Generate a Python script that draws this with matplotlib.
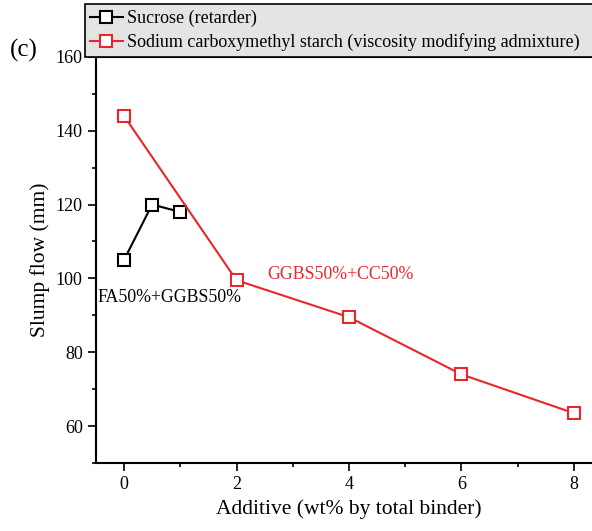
import numpy as np
import matplotlib.pyplot as plt
from matplotlib.ticker import MultipleLocator

# Datos de fluidez (mm) frente al aditivo (% en peso del aglutinante)
sacarosa_x = [0, 0.5, 1]
sacarosa_y = [105, 120, 118]
almidon_x = [0, 2, 4, 6, 8]
almidon_y = [144, 99.5, 89.5, 74, 63.5]

rojo = '#e8262b'
plt.rcParams['font.family'] = ['Liberation Serif', 'DejaVu Serif']

fig = plt.figure(figsize=(5.92, 5.31), dpi=100)
ax = fig.add_axes([0.162, 0.128, 0.855, 0.765])

ax.plot(sacarosa_x, sacarosa_y, color='black', lw=1.5, marker='s', ms=8,
        mfc='white', mec='black', mew=1.5, label='Sucrose (retarder)')
ax.plot(almidon_x, almidon_y, color=rojo, lw=1.5, marker='s', ms=8,
        mfc='white', mec=rojo, mew=1.5,
        label='Sodium carboxymethyl starch (viscosity modifying admixture)')

ax.set_xlim(-0.5, 8.5)
ax.set_ylim(50, 160)
ax.xaxis.set_major_locator(MultipleLocator(2))
ax.xaxis.set_minor_locator(MultipleLocator(1))
ax.yaxis.set_major_locator(MultipleLocator(20))
ax.yaxis.set_minor_locator(MultipleLocator(10))
ax.tick_params(which='both', direction='out', labelsize=13, width=1.2)
ax.tick_params(which='major', length=6)
ax.tick_params(which='minor', length=3)
for lado in ax.spines.values():
    lado.set_linewidth(1.5)

ax.set_xlabel('Additive (wt% by total binder)', fontsize=15.5)
ax.set_ylabel('Slump flow (mm)', fontsize=15.5)

ax.text(2.55, 101, 'GGBS50%+CC50%', color=rojo, fontsize=12.8, va='center')
ax.text(-0.48, 94.8, 'FA50%+GGBS50%', color='black', fontsize=12.8, va='center')
fig.text(0.017, 0.905, '(c)', fontsize=18, va='center')

# Leyenda en caja gris encima del gráfico
leg = fig.legend(loc='lower left', bbox_to_anchor=(0.143, 0.893, 0.9, 0.098),
                 mode='expand', fontsize=13, frameon=True, fancybox=False,
                 handlelength=1.8, handletextpad=0.25, borderpad=0.3,
                 labelspacing=0.35, borderaxespad=0)
leg.get_frame().set_facecolor('#e4e4e4')
leg.get_frame().set_edgecolor('black')
leg.get_frame().set_linewidth(1.2)
leg.get_frame().set_alpha(1)

fig.savefig('out.png', dpi=100)
